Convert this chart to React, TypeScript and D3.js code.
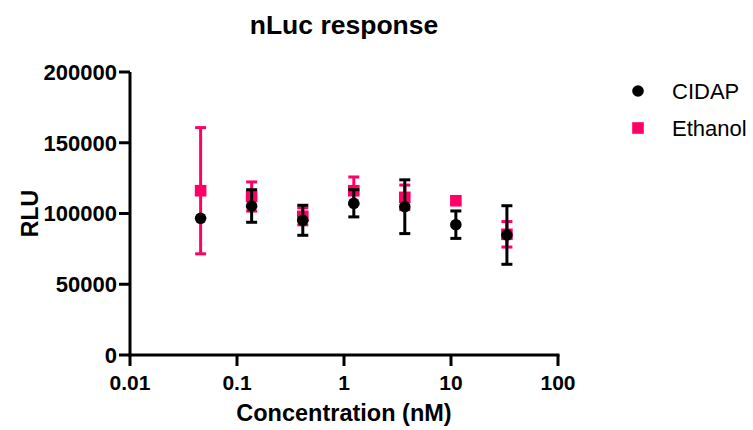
import React from "react";
import * as d3 from "d3";

const concentrations = [0.0457, 0.137, 0.412, 1.235, 3.7, 11.1, 33.3];
const cidapMean = [96600, 105300, 95200, 107200, 104800, 92100, 84800];
const cidapErr = [0, 11500, 10600, 9600, 19000, 9700, 20700];
const ethanolMean = [116100, 112000, 98000, 116100, 111400, 109000, 85300];
const ethanolErr = [44600, 10300, 6000, 9700, 8700, 0, 9000];
const xTicks = [0.01, 0.1, 1, 10, 100];
const yTicks = [0, 50000, 100000, 150000, 200000];
const seriesNames = ["CIDAP", "Ethanol"];
const seriesColors = ["#000000", "#FF0066"];

const W = 753;
const H = 430;
const FONT = "'Liberation Sans', Arial, Helvetica, sans-serif";

export default function App() {
  const x = d3.scaleLog().domain([0.01, 100]).range([130, 558]);
  const y = d3.scaleLinear().domain([0, 200000]).range([355, 72]);
  const sym = 5.8;
  const cap = 5.5;

  const errBars = (means: number[], errs: number[], color: string) =>
    concentrations.map((c, i) => {
      const e = errs[i];
      if (!e) return null;
      const cx = x(c);
      const y1 = y(means[i] + e);
      const y2 = y(means[i] - e);
      return (
        <g key={"e" + i} stroke={color} strokeWidth={3} fill="none">
          <line x1={cx} x2={cx} y1={y1} y2={y2} />
          <line x1={cx - cap} x2={cx + cap} y1={y1} y2={y1} />
          <line x1={cx - cap} x2={cx + cap} y1={y2} y2={y2} />
        </g>
      );
    });

  return (
    <svg width={W} height={H} style={{ position: "absolute", left: 0, top: 0, background: "#fff" }}>
      <rect width={W} height={H} fill="#fff" />
      <text x={344} y={34} textAnchor="middle" fontFamily={FONT} fontWeight="bold" fontSize={26.5}>
        nLuc response
      </text>

      {/* Ethanol (behind) */}
      {errBars(ethanolMean, ethanolErr, seriesColors[1])}
      {concentrations.map((c, i) => (
        <rect
          key={"s" + i}
          x={x(c) - sym}
          y={y(ethanolMean[i]) - sym}
          width={sym * 2}
          height={sym * 2}
          fill={seriesColors[1]}
        />
      ))}

      {/* CIDAP (front) */}
      {errBars(cidapMean, cidapErr, seriesColors[0])}
      {concentrations.map((c, i) => (
        <circle key={"c" + i} cx={x(c)} cy={y(cidapMean[i])} r={sym} fill={seriesColors[0]} />
      ))}

      {/* Y axis */}
      <line x1={130} x2={130} y1={y(200000)} y2={y(0) + 1.5} stroke="#000" strokeWidth={3} />
      {yTicks.map((t) => (
        <g key={"yt" + t}>
          <line x1={119} x2={130} y1={y(t)} y2={y(t)} stroke="#000" strokeWidth={3} />
          <text
            x={117}
            y={y(t)}
            dy="0.36em"
            textAnchor="end"
            fontFamily={FONT}
            fontWeight="bold"
            fontSize={22}
          >
            {t}
          </text>
        </g>
      ))}
      <text
        transform={`translate(38,${(y(0) + y(200000)) / 2}) rotate(-90)`}
        textAnchor="middle"
        fontFamily={FONT}
        fontWeight="bold"
        fontSize={23}
      >
        RLU
      </text>

      {/* X axis */}
      <line x1={128.5} x2={x(100) + 1.5} y1={355} y2={355} stroke="#000" strokeWidth={3} />
      {xTicks.map((t) => (
        <g key={"xt" + t}>
          <line x1={x(t)} x2={x(t)} y1={355} y2={366} stroke="#000" strokeWidth={3} />
          <text x={x(t)} y={390} textAnchor="middle" fontFamily={FONT} fontWeight="bold" fontSize={21}>
            {String(t)}
          </text>
        </g>
      ))}
      <text x={344} y={421} textAnchor="middle" fontFamily={FONT} fontWeight="bold" fontSize={23.5}>
        Concentration (nM)
      </text>

      {/* Legend */}
      <circle cx={638} cy={91} r={sym} fill={seriesColors[0]} />
      <text x={672} y={99} fontFamily={FONT} fontSize={22}>
        {seriesNames[0]}
      </text>
      <rect x={638 - sym} y={128 - sym} width={sym * 2} height={sym * 2} fill={seriesColors[1]} />
      <text x={672} y={136} fontFamily={FONT} fontSize={22}>
        {seriesNames[1]}
      </text>
    </svg>
  );
}
